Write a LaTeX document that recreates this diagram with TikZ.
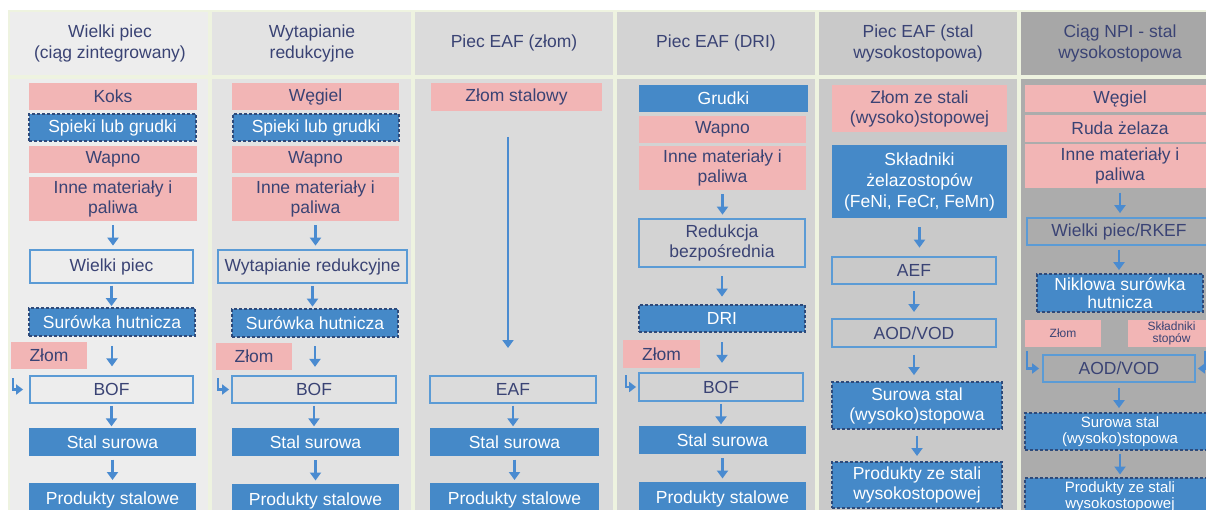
\documentclass[tikz,border=0pt]{standalone}
\usepackage{fontspec}
\setmainfont{Liberation Sans}
\usetikzlibrary{arrows.meta,calc}

\definecolor{txt}{HTML}{3A4374}
\definecolor{pinkf}{HTML}{F2B5B5}
\definecolor{bluef}{HTML}{4589C8}
\definecolor{navy}{HTML}{2E4A7A}
\definecolor{lineb}{HTML}{5B9BD5}
\definecolor{arrb}{HTML}{4A8BD0}
\definecolor{sepc}{HTML}{EEF3E0}
\definecolor{colA}{HTML}{EDEDED}
\definecolor{colB}{HTML}{E3E3E3}
\definecolor{colC}{HTML}{DBDBDB}
\definecolor{colD}{HTML}{D3D3D3}
\definecolor{colE}{HTML}{C9C9C9}
\definecolor{colFh}{HTML}{A7A7A7}
\definecolor{colF}{HTML}{ACACAC}

\tikzset{
  x=1pt, y=-1pt,
  base/.style={inner sep=0pt, align=center, text=txt,
    font=\fontsize{17.5}{20}\selectfont},
  pinkbox/.style={base, fill=pinkf},
  bluebox/.style={base, fill=bluef, text=white},
  dashbox/.style={bluebox, draw=navy, line width=1.3pt, dash pattern=on 3pt off 2pt},
  outbox/.style={base, draw=lineb, line width=1.8pt},
  small/.style={font=\fontsize{12}{12.5}\selectfont},
  mid/.style={font=\fontsize{15}{16}\selectfont},
  head/.style={base, font=\fontsize{17.5}{21}\selectfont},
  arr/.style={draw=arrb, line width=2.6pt, -{Triangle[width=11pt,length=8pt]}},
  elb/.style={draw=arrb, line width=2.4pt, -{Triangle[width=10pt,length=7pt]}},
}

% box given by its left, right, top and bottom edges
\newcommand\boxat[7]{%
  \pgfmathsetmacro\bw{#4-#3}\pgfmathsetmacro\bh{#6-#5}%
  \pgfmathsetmacro\bcx{(#3+#4)/2}\pgfmathsetmacro\bcy{(#5+#6)/2}%
  \node[#1, minimum width=\bw pt, minimum height=\bh pt] (#2) at (\bcx,\bcy) {#7};}

% short downward arrow centred in the gap between two boxes
\newcommand\flow[2]{%
  \draw[arr] ($(#1.south)!.5!(#1.south|-#2.north)+(0,-10)$) --
             ($(#1.south)!.5!(#1.south|-#2.north)+(0,10.5)$);}

\begin{document}
\begin{tikzpicture}
\useasboundingbox (0,0) rectangle (1206,510);
\clip (0,0) rectangle (1206,510);
\fill[white] (0,0) rectangle (1206,510);
\fill[sepc] (8,10) rectangle (1206,510);

% column backgrounds: header strip and body
\foreach \xa/\xb/\ch/\cb in {10/208/colA/colA, 212/411/colB/colB, 415/613/colC/colC,
                             617/815/colD/colD, 819/1017/colE/colE, 1021/1210/colFh/colF}{
  \fill[\ch] (\xa,12) rectangle (\xb,75);
  \fill[\cb] (\xa,79) rectangle (\xb,512);
}

% headers
\node[head] (h1) at (110,43.5) {Wielki piec\\(ciąg zintegrowany)};
\node[head] (h2) at (312,43.5) {Wytapianie\\redukcyjne};
\node[head] (h3) at (514,43) {Piec EAF (złom)};
\node[head] (h4) at (716,43) {Piec EAF (DRI)};
\node[head] (h5) at (918,43.5) {Piec EAF (stal\\wysokostopowa)};
\node[head] (h6) at (1120,43.5) {Ciąg NPI - stal\\wysokostopowa};

% blast furnace route
\boxat{pinkbox}{a1}{29}{197}{83}{110}{Koks}
\boxat{dashbox}{a2}{29}{196}{114}{141}{Spieki lub grudki}
\boxat{pinkbox}{a3}{29}{197}{146}{173}{Wapno}
\boxat{pinkbox}{a4}{29}{197}{177}{221}{Inne materiały i\\paliwa}
\boxat{outbox}{a5}{30}{193}{250}{283}{Wielki piec}
\boxat{dashbox}{a6}{29}{195}{308}{336}{Surówka hutnicza}
\boxat{pinkbox}{az}{11}{87}{342}{369}{Złom}
\boxat{outbox}{a7}{30}{193}{376}{403}{BOF}
\boxat{bluebox}{a8}{29}{196}{428}{456}{Stal surowa}
\boxat{bluebox}{a9}{29}{196}{483}{516}{Produkty stalowe}

% smelting reduction route
\boxat{pinkbox}{b1}{232}{399}{83}{110}{Węgiel}
\boxat{dashbox}{b2}{233}{399}{114}{141}{Spieki lub grudki}
\boxat{pinkbox}{b3}{232}{399}{146}{173}{Wapno}
\boxat{pinkbox}{b4}{232}{399}{177}{221}{Inne materiały i\\paliwa}
\boxat{outbox}{b5}{218}{407}{250}{283}{Wytapianie redukcyjne}
\boxat{dashbox}{b6}{232}{398}{309}{337}{Surówka hutnicza}
\boxat{pinkbox}{bz}{216}{292}{343}{370}{Złom}
\boxat{outbox}{b7}{232}{396}{376}{403}{BOF}
\boxat{bluebox}{b8}{232}{399}{428}{456}{Stal surowa}
\boxat{bluebox}{b9}{232}{399}{484}{517}{Produkty stalowe}

% scrap EAF route
\boxat{pinkbox}{c1}{431}{602}{83}{111}{Złom stalowy}
\boxat{outbox}{c7}{430}{596}{376}{403}{EAF}
\boxat{bluebox}{c8}{430}{599}{428}{456}{Stal surowa}
\boxat{bluebox}{c9}{430}{599}{483}{516}{Produkty stalowe}

% DRI route
\boxat{bluebox}{d1}{639}{808}{85}{112}{Grudki}
\boxat{pinkbox}{d3}{639}{806}{116}{143}{Wapno}
\boxat{pinkbox}{d4}{639}{806}{146}{190}{Inne materiały i\\paliwa}
\boxat{outbox}{d5}{639}{805}{219}{267}{Redukcja\\bezpośrednia}
\boxat{dashbox}{d6}{639}{805}{305}{332}{DRI}
\boxat{pinkbox}{dz}{623}{700}{340}{368}{Złom}
\boxat{outbox}{d7}{639}{803}{373}{401}{BOF}
\boxat{bluebox}{d8}{639}{806}{426}{454}{Stal surowa}
\boxat{bluebox}{d9}{639}{806}{482}{515}{Produkty stalowe}

% high-alloy EAF route
\boxat{pinkbox}{e1}{832}{1007}{85}{132}{Złom ze stali\\(wysoko)stopowej}
\boxat{bluebox,font=\fontsize{17.5}{21}\selectfont}{e2}{832}{1007}{145}{218}{Składniki\\żelazostopów\\(FeNi, FeCr, FeMn)}
\boxat{outbox}{e3}{832}{996}{257}{284}{AEF}
\boxat{outbox}{e4}{832}{996}{319}{347}{AOD/VOD}
\boxat{dashbox}{e5}{832}{1002}{382}{429}{Surowa stal\\(wysoko)stopowa}
\boxat{dashbox}{e6}{832}{1002}{462}{508}{Produkty ze stali\\wysokostopowej}

% NPI route
\boxat{pinkbox}{f1}{1025}{1215}{85}{112}{Węgiel}
\boxat{pinkbox}{f2}{1025}{1215}{115}{142}{Ruda żelaza}
\boxat{pinkbox}{f3}{1025}{1215}{144}{188}{Inne materiały i\\paliwa}
\boxat{outbox}{f4}{1027}{1211}{218}{245}{Wielki piec/RKEF}
\boxat{dashbox,font=\fontsize{17.5}{18}\selectfont}{f5}{1037}{1203}{274}{312}{Niklowa surówka\\hutnicza}
\boxat{pinkbox,small}{fz}{1025}{1101}{320}{347}{Złom}
\boxat{pinkbox,small}{fs}{1128}{1215}{320}{347}{Składniki\\stopów}
\boxat{outbox}{f6}{1043}{1195}{355}{382}{AOD/VOD}
\boxat{dashbox,mid}{f7}{1025}{1215}{413}{450}{Surowa stal\\(wysoko)stopowa}
\boxat{dashbox,mid}{f8}{1025}{1215}{478}{516}{Produkty ze stali\\wysokostopowej}

% process flow arrows
\flow{a4}{a5}\flow{a5}{a6}\flow{a6}{a7}\flow{a7}{a8}\flow{a8}{a9}
\flow{b4}{b5}\flow{b5}{b6}\flow{b6}{b7}\flow{b7}{b8}\flow{b8}{b9}
\flow{c7}{c8}\flow{c8}{c9}
\flow{d4}{d5}\flow{d5}{d6}\flow{d6}{d7}\flow{d7}{d8}\flow{d8}{d9}
\flow{e2}{e3}\flow{e3}{e4}\flow{e4}{e5}\flow{e5}{e6}
\flow{f3}{f4}\flow{f4}{f5}\flow{f6}{f7}\flow{f7}{f8}

% scrap goes straight down to the EAF
\coordinate (ltop) at (508,137);
\coordinate (lbot) at (508,348);
\draw[arr, line width=2.2pt] (ltop) -- (lbot);

% scrap / alloy additions fed sideways into the converters
\coordinate (el1) at (13,378);
\coordinate (el2) at (218,378);
\coordinate (el4) at (626,375);
\coordinate (el6) at (1027,351);
\coordinate (er6) at (1205,351);
\draw[elb, shorten >=6pt] (el1) |- (a7.west);
\draw[elb, shorten >=2pt] (el2) |- (b7.west);
\draw[elb, shorten >=2pt] (el4) |- (d7.west);
\draw[elb, shorten >=3pt] (el6) |- (f6.west);
\draw[elb, shorten >=2pt] (er6) |- (f6.east);
\end{tikzpicture}
\end{document}
